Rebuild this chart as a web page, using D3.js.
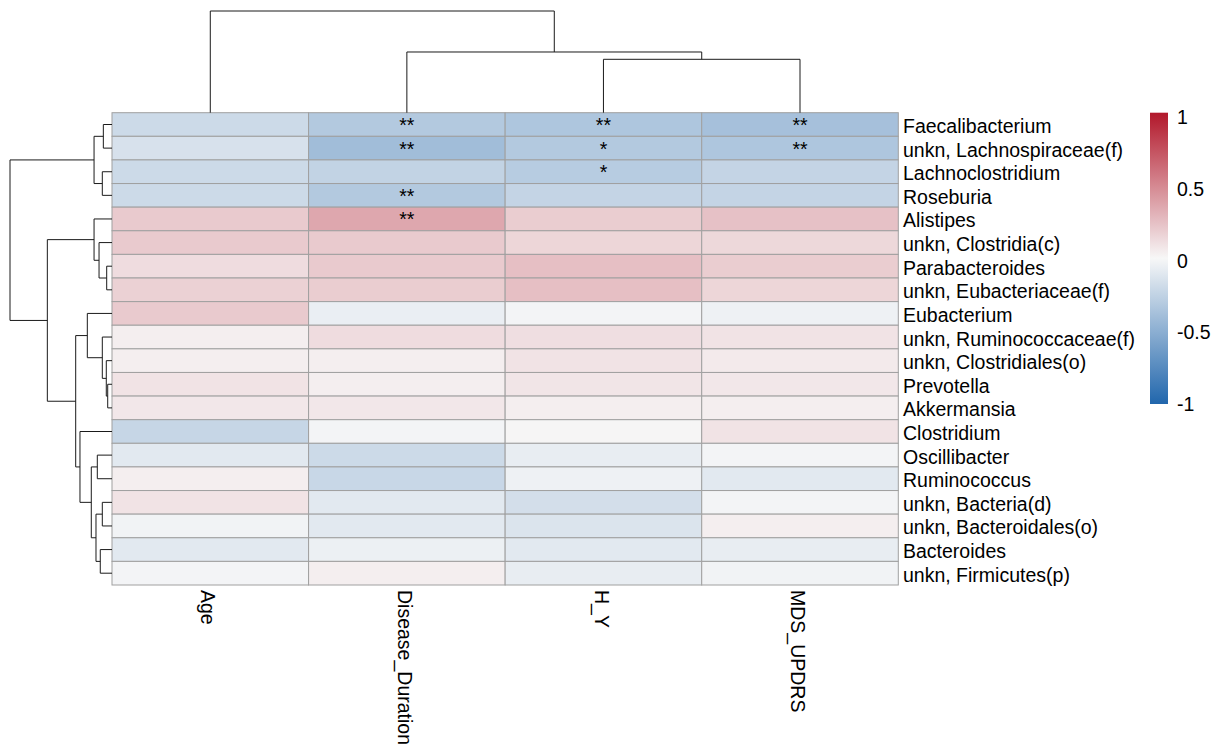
<!DOCTYPE html>
<html><head><meta charset="utf-8">
<script src="https://cdn.jsdelivr.net/npm/d3@7"></script>
<style>body{margin:0;background:#fff}svg{display:block}text{font-family:"Liberation Sans",Arial,sans-serif;fill:#000}</style>
</head><body>
<svg id="c" width="1220" height="751"></svg>
<script>
const rows = ["Faecalibacterium","unkn, Lachnospiraceae(f)","Lachnoclostridium","Roseburia","Alistipes","unkn, Clostridia(c)","Parabacteroides","unkn, Eubacteriaceae(f)","Eubacterium","unkn, Ruminococcaceae(f)","unkn, Clostridiales(o)","Prevotella","Akkermansia","Clostridium","Oscillibacter","Ruminococcus","unkn, Bacteria(d)","unkn, Bacteroidales(o)","Bacteroides","unkn, Firmicutes(p)"];
const cols = ["Age","Disease_Duration","H_Y","MDS_UPDRS"];
const age  = [-0.20,-0.15,-0.20,-0.20, 0.20, 0.20, 0.12, 0.17, 0.20, 0.04, 0.04, 0.09, 0.07,-0.23,-0.10, 0.04, 0.09,-0.03,-0.10,-0.02];
const dd   = [-0.32,-0.40,-0.25,-0.32, 0.36, 0.20, 0.20, 0.19,-0.06, 0.12, 0.04, 0.04, 0.07,-0.02,-0.20,-0.22,-0.10,-0.10,-0.05, 0.04];
const hy   = [-0.34,-0.32,-0.30,-0.24, 0.19, 0.15, 0.25, 0.25,-0.02, 0.11, 0.09, 0.08, 0.04, 0.01,-0.07,-0.04,-0.17,-0.13,-0.10,-0.07];
const mds  = [-0.38,-0.34,-0.24,-0.24, 0.24, 0.14, 0.19, 0.15,-0.04, 0.09, 0.06, 0.07, 0.04, 0.09,-0.02,-0.10,-0.02, 0.04,-0.07,-0.03];
const starsDD  = ["**","**","","**","**","","","","","","","","","","","","","","",""];
const starsHY  = ["**","*","*","","","","","","","","","","","","","","","","",""];
const starsMDS = ["**","**","","","","","","","","","","","","","","","","","",""];
const starsAge = ["","","","","","","","","","","","","","","","","","","",""];
const legendTicks = [1, 0.5, 0, -0.5, -1];
// dendrograms: [height, left, right]; leaves are indices
const rowTree = [1.0,
  [0.176, [0.085, 0, 1], [0.095, 2, 3]],
  [0.634,
    [0.176, 4, [0.127, 5, [0.052, 6, 7]]],
    [0.356,
      [0.242, 8, [0.095, 9, [0.056, 10, [0.042, 11, 12]]]],
      [0.314, 13, [0.203, [0.144, 14, 15], [0.157, [0.095, 16, 17], [0.115, 18, 19]]]]
    ]
  ]
];
const colTree = [1.0, 0, [0.597, 1, [0.525, 2, 3]]];

const values = [age, dd, hy, mds];
const stars = [starsAge, starsDD, starsHY, starsMDS];

const svg = d3.select("#c");
const x = d3.scaleBand().domain(cols).range([112, 898.3]);
const y = d3.scaleBand().domain(rows).range([112.7, 585]);
const color = d3.scaleLinear().domain([-1, 0, 1]).range(["#2166AC", "#F7F7F7", "#B2182B"]);

const cells = [];
cols.forEach((c, j) => rows.forEach((r, i) => cells.push({r, c, v: values[j][i], s: stars[j][i]})));

svg.append("g").selectAll("rect").data(cells).join("rect")
  .attr("x", d => x(d.c)).attr("y", d => y(d.r))
  .attr("width", x.bandwidth()).attr("height", y.bandwidth())
  .attr("fill", d => color(d.v)).attr("stroke", "#a0a0a0").attr("stroke-width", 1);

svg.append("g").selectAll("text").data(cells.filter(d => d.s)).join("text")
  .attr("x", d => x(d.c) + x.bandwidth() / 2).attr("y", d => y(d.r) + y.bandwidth() / 2 + 7.5)
  .attr("text-anchor", "middle").style("font-size", "19.5px").text(d => d.s);

// row labels
svg.append("g").selectAll("text").data(rows).join("text")
  .attr("x", 903).attr("y", d => y(d) + y.bandwidth() / 2 + 8.5)
  .style("font-size", "19.5px").text(d => d);

// column labels
svg.append("g").selectAll("text").data(cols).join("text")
  .attr("transform", d => `translate(${x(d) + x.bandwidth() / 2 - 2},590) rotate(90)`)
  .attr("dy", "0.35em").style("font-size", "19.5px").text(d => d);

// dendrogram helper
function toHier(t) {
  if (typeof t === "number") return {leaf: t, h: 0};
  return {h: t[0], children: [toHier(t[1]), toHier(t[2])]};
}
function drawDend(tree, leafPos, hScale, horizontal) {
  const root = d3.hierarchy(toHier(tree));
  root.eachAfter(n => {
    n.pos = n.children ? d3.mean(n.children, c => c.pos) : leafPos(n.data.leaf);
  });
  const segs = [];
  root.each(n => {
    if (!n.children) return;
    const hp = hScale(n.data.h);
    const [a, b] = n.children;
    segs.push([[hp, a.pos], [hp, b.pos]]);
    n.children.forEach(c => segs.push([[hp, c.pos], [hScale(c.data.h), c.pos]]));
  });
  const line = horizontal ? d3.line().x(p => p[0]).y(p => p[1]) : d3.line().x(p => p[1]).y(p => p[0]);
  svg.append("g").selectAll("path").data(segs).join("path")
    .attr("d", line).attr("fill", "none").attr("stroke", "#1a1a1a").attr("stroke-width", 1);
}
const rowH = d3.scaleLinear().domain([0, 1]).range([112, 10]);
drawDend(rowTree, i => y(rows[i]) + y.bandwidth() / 2, rowH, true);
const colH = d3.scaleLinear().domain([0, 1]).range([112.7, 11]);
drawDend(colTree, j => x(cols[j]) + x.bandwidth() / 2, colH, false);

// legend
const defs = svg.append("defs");
const grad = defs.append("linearGradient").attr("id", "lg").attr("x1", 0).attr("x2", 0).attr("y1", 1).attr("y2", 0);
d3.range(0, 1.0001, 0.05).forEach(t => grad.append("stop").attr("offset", t).attr("stop-color", color(-1 + 2 * t)));
svg.append("rect").attr("x", 1150).attr("y", 112.7).attr("width", 18).attr("height", 404 - 112.7).attr("fill", "url(#lg)");
const ly = d3.scaleLinear().domain([-1, 1]).range([404, 117]);
svg.append("g").selectAll("text").data(legendTicks).join("text")
  .attr("x", 1177).attr("y", d => ly(d)).attr("dy", "0.36em")
  .style("font-size", "19.5px").text(d => String(d));
</script>
</body></html>
